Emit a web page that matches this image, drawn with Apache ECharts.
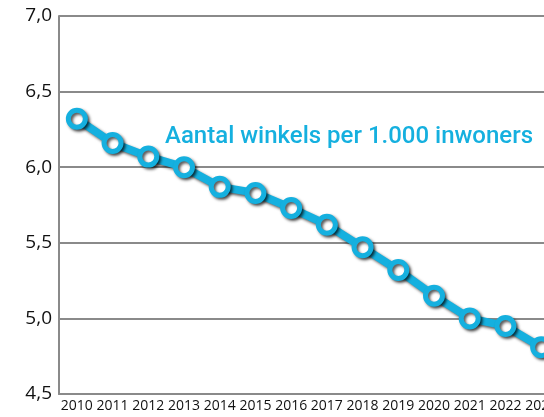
<!DOCTYPE html>
<html><head><meta charset="utf-8">
<script src="https://cdn.jsdelivr.net/npm/echarts@6/dist/echarts.min.js"></script>
<style>html,body{margin:0;padding:0;background:#fff}#c{width:544px;height:417px}</style>
</head><body><div id="c"></div>
<script>
var years = ['2010','2011','2012','2013','2014','2015','2016','2017','2018','2019','2020','2021','2022','2023'];
var winkels = [6.32, 6.16, 6.07, 6.00, 5.87, 5.83, 5.73, 5.62, 5.47, 5.32, 5.15, 5.00, 4.95, 4.81];
var seriesName = 'Aantal winkels per 1.000 inwoners';
var chart = echarts.init(document.getElementById('c'));
chart.setOption({
  animation: false,
  grid: {left: 59, width: 500, top: 16, bottom: 23, containLabel: false, outerBoundsMode: 'none'},
  xAxis: {
    type: 'category', data: years, boundaryGap: true,
    axisLine: {show: true, lineStyle: {color: '#8a8a8a', width: 2}},
    axisTick: {show: false},
    axisLabel: {color: '#111', fontSize: 14, fontFamily: 'Open Sans', margin: 5, interval: 0, hideOverlap: false}
  },
  yAxis: {
    type: 'value', min: 4.5, max: 7, interval: 0.5,
    axisLine: {show: true, lineStyle: {color: '#8a8a8a', width: 2}},
    axisTick: {show: false},
    splitLine: {lineStyle: {color: '#8a8a8a', width: 2}},
    axisLabel: {color: '#111', fontSize: 19, fontFamily: 'Open Sans', margin: 7,
      formatter: function (v) { return v.toFixed(1).replace('.', ','); }}
  },
  graphic: [{
    type: 'text', left: 165, top: 125,
    style: {text: seriesName, fill: '#15b0df', fontSize: 24, fontWeight: 500, fontFamily: 'Roboto'}
  }],
  series: [{
    name: seriesName, type: 'line', data: winkels,
    symbol: 'circle', symbolSize: 17,
    lineStyle: {color: '#15b0df', width: 8, shadowColor: 'rgba(0,0,0,0.65)', shadowBlur: 3, shadowOffsetX: 2, shadowOffsetY: 2},
    itemStyle: {color: '#ffffff', borderColor: '#15b0df', borderWidth: 5, shadowColor: 'rgba(0,0,0,0.65)', shadowBlur: 3, shadowOffsetX: 2, shadowOffsetY: 2}
  }]
});
</script></body></html>
